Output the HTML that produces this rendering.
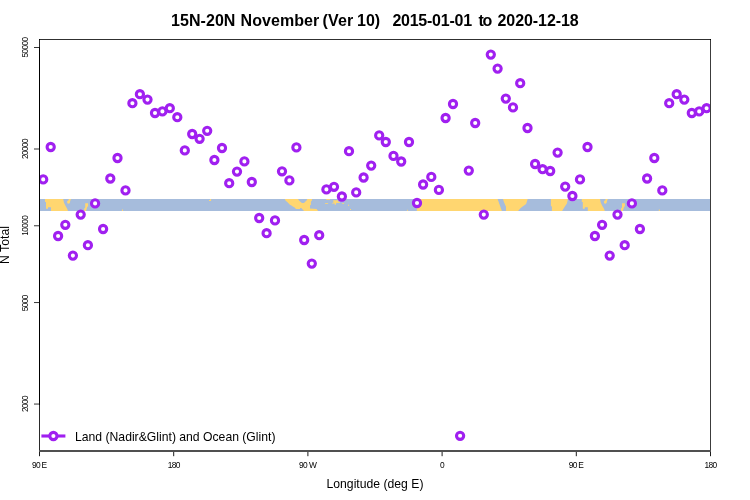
<!DOCTYPE html>
<html><head><meta charset="utf-8"><style>
html,body{margin:0;padding:0;background:#fff;}
svg{display:block;font-family:"Liberation Sans",sans-serif;will-change:transform;}
</style></head><body>
<svg width="750" height="500" viewBox="0 0 750 500">
<rect width="750" height="500" fill="#fff"/>
<text x="171.00" y="25.8" font-size="16" font-weight="bold" fill="#000" textLength="64.43" lengthAdjust="spacing">15N-20N</text><text x="240.50" y="25.8" font-size="16" font-weight="bold" fill="#000" textLength="78.75" lengthAdjust="spacing">November</text><text x="322.50" y="25.8" font-size="16" font-weight="bold" fill="#000" textLength="30.75" lengthAdjust="spacing">(Ver</text><text x="357.00" y="25.8" font-size="16" font-weight="bold" fill="#000" textLength="23.12" lengthAdjust="spacing">10)</text><text x="392.40" y="25.8" font-size="16" font-weight="bold" fill="#000" textLength="79.64" lengthAdjust="spacing">2015-01-01</text><text x="478.50" y="25.8" font-size="16" font-weight="bold" fill="#000" textLength="13.81" lengthAdjust="spacing">to</text><text x="497.50" y="25.8" font-size="16" font-weight="bold" fill="#000" textLength="81.24" lengthAdjust="spacing">2020-12-18</text>
<rect x="40" y="199" width="670" height="12" fill="#A6BCDC"/>
<g fill="#FFD670">
<polygon points="45.0,199.0 63.2,199.0 64.0,202.8 65.6,206.0 67.2,208.8 68.0,211.0 51.0,211.0 51.0,207.2 48.0,207.2 48.0,208.8 46.0,208.8 46.0,202.0 45.0,202.0"/>
<polygon points="581.8,199.0 600.0,199.0 600.8,202.8 602.4,206.0 604.0,208.8 604.8,211.0 587.8,211.0 587.8,207.2 584.8,207.2 584.8,208.8 582.8,208.8 582.8,202.0 581.8,202.0"/>
<polygon points="68.8,199.0 70.8,199.0 70.8,200.2 70.2,200.6 70.0,202.4 69.0,203.8 67.2,203.2 67.2,201.0 68.4,200.4"/>
<polygon points="605.6,199.0 607.6,199.0 607.6,200.2 607.0,200.6 606.8,202.4 605.8,203.8 604.0,203.2 604.0,201.0 605.2,200.4"/>
<polygon points="85.2,203.2 88.1,203.2 88.1,206.2 87.2,207.0 86.6,209.2 86.0,211.0 84.2,211.0 84.2,208.4 85.2,207.6"/>
<polygon points="622.0,203.2 624.9,203.2 624.9,206.2 624.0,207.0 623.4,209.2 622.8,211.0 621.0,211.0 621.0,208.4 622.0,207.6"/>
<polygon points="122.0,209.6 123.0,209.6 123.0,211.0 122.0,211.0"/>
<polygon points="658.8,209.6 659.8,209.6 659.8,211.0 658.8,211.0"/>
<polygon points="210.1,199.0 211.1,199.0 211.1,201.0 209.0,201.0 209.0,200.0 210.1,200.0"/>
<polygon points="285.1,199.0 298.0,199.0 299.2,200.8 300.7,202.0 301.9,202.9 304.0,202.9 305.2,201.7 306.4,200.8 307.3,199.0 312.1,199.0 311.8,200.8 310.9,201.4 310.9,205.0 310.0,205.3 310.0,208.6 316.6,208.9 318.1,211.0 304.0,211.0 302.2,208.9 301.3,208.0 300.1,208.0 300.1,208.9 295.9,208.9 295.0,207.7 293.2,206.8 291.4,205.6 289.6,204.4 287.8,202.6 286.0,201.1 285.1,199.9"/>
<polygon points="326.2,199.0 329.9,199.0 329.9,199.9 326.2,199.9"/>
<polygon points="325.1,203.1 328.1,203.1 328.1,203.9 325.1,203.9"/>
<polygon points="333.1,200.2 337.9,200.2 337.9,201.5 340.0,202.0 340.0,202.7 336.3,203.1 335.8,204.7 334.7,204.7 334.7,203.6 332.0,203.6 332.0,202.9 333.6,202.5"/>
<polygon points="342.2,203.1 344.1,203.1 344.1,203.9 342.2,203.9"/>
<polygon points="348.0,204.7 349.1,204.7 349.1,205.7 348.0,205.7"/>
<polygon points="350.0,209.0 351.0,209.0 351.0,210.0 350.0,210.0"/>
<polygon points="407.0,209.8 407.8,209.8 407.8,211.0 407.0,211.0"/>
<polygon points="416.3,199.0 497.6,199.0 501.9,211.0 416.9,211.0"/>
<polygon points="503.0,199.0 527.7,199.0 526.1,204.1 522.3,206.8 520.2,208.4 518.1,211.0 506.0,211.0 506.0,206.8 503.9,202.0"/>
<polygon points="550.9,199.0 567.9,199.0 566.9,203.6 564.7,206.8 562.1,211.0 551.9,211.0 551.9,206.8 550.9,205.7"/>
</g>
<defs><clipPath id="pc"><rect x="39.5" y="39.5" width="671" height="411.5"/></clipPath></defs>
<g fill="#fff" stroke="#A020F0" stroke-width="3.1" clip-path="url(#pc)">
<circle cx="43.20" cy="179.40" r="3.6"/>
<circle cx="50.70" cy="147.00" r="3.6"/>
<circle cx="58.10" cy="236.00" r="3.6"/>
<circle cx="65.30" cy="224.80" r="3.6"/>
<circle cx="72.90" cy="255.60" r="3.6"/>
<circle cx="80.70" cy="214.60" r="3.6"/>
<circle cx="87.90" cy="245.20" r="3.6"/>
<circle cx="95.10" cy="203.40" r="3.6"/>
<circle cx="103.10" cy="229.00" r="3.6"/>
<circle cx="110.30" cy="178.50" r="3.6"/>
<circle cx="117.50" cy="158.00" r="3.6"/>
<circle cx="125.50" cy="190.40" r="3.6"/>
<circle cx="132.40" cy="103.20" r="3.6"/>
<circle cx="139.90" cy="94.20" r="3.6"/>
<circle cx="147.50" cy="99.60" r="3.6"/>
<circle cx="155.00" cy="113.00" r="3.6"/>
<circle cx="162.40" cy="111.40" r="3.6"/>
<circle cx="169.80" cy="108.20" r="3.6"/>
<circle cx="177.30" cy="117.20" r="3.6"/>
<circle cx="184.80" cy="150.40" r="3.6"/>
<circle cx="192.20" cy="134.00" r="3.6"/>
<circle cx="199.60" cy="138.80" r="3.6"/>
<circle cx="207.20" cy="130.80" r="3.6"/>
<circle cx="214.40" cy="160.00" r="3.6"/>
<circle cx="222.00" cy="148.00" r="3.6"/>
<circle cx="229.20" cy="183.20" r="3.6"/>
<circle cx="237.00" cy="171.60" r="3.6"/>
<circle cx="244.40" cy="161.40" r="3.6"/>
<circle cx="251.80" cy="182.00" r="3.6"/>
<circle cx="259.20" cy="218.00" r="3.6"/>
<circle cx="266.60" cy="233.20" r="3.6"/>
<circle cx="275.00" cy="220.40" r="3.6"/>
<circle cx="282.00" cy="171.30" r="3.6"/>
<circle cx="289.40" cy="180.40" r="3.6"/>
<circle cx="296.40" cy="147.40" r="3.6"/>
<circle cx="304.20" cy="240.00" r="3.6"/>
<circle cx="311.80" cy="263.60" r="3.6"/>
<circle cx="319.20" cy="235.20" r="3.6"/>
<circle cx="326.40" cy="189.40" r="3.6"/>
<circle cx="334.00" cy="186.80" r="3.6"/>
<circle cx="341.90" cy="196.50" r="3.6"/>
<circle cx="349.00" cy="151.20" r="3.6"/>
<circle cx="356.20" cy="192.40" r="3.6"/>
<circle cx="363.60" cy="177.50" r="3.6"/>
<circle cx="371.20" cy="165.60" r="3.6"/>
<circle cx="379.20" cy="135.40" r="3.6"/>
<circle cx="385.80" cy="142.00" r="3.6"/>
<circle cx="393.50" cy="155.90" r="3.6"/>
<circle cx="401.20" cy="161.50" r="3.6"/>
<circle cx="409.00" cy="142.00" r="3.6"/>
<circle cx="417.00" cy="203.00" r="3.6"/>
<circle cx="423.10" cy="184.50" r="3.6"/>
<circle cx="431.30" cy="176.90" r="3.6"/>
<circle cx="438.90" cy="189.90" r="3.6"/>
<circle cx="445.60" cy="118.00" r="3.6"/>
<circle cx="453.00" cy="104.00" r="3.6"/>
<circle cx="460.10" cy="435.80" r="3.6"/>
<circle cx="468.80" cy="170.60" r="3.6"/>
<circle cx="475.20" cy="123.00" r="3.6"/>
<circle cx="483.80" cy="214.60" r="3.6"/>
<circle cx="490.80" cy="54.60" r="3.6"/>
<circle cx="497.60" cy="68.60" r="3.6"/>
<circle cx="505.80" cy="98.60" r="3.6"/>
<circle cx="513.00" cy="107.40" r="3.6"/>
<circle cx="520.20" cy="83.20" r="3.6"/>
<circle cx="527.50" cy="128.00" r="3.6"/>
<circle cx="535.10" cy="164.00" r="3.6"/>
<circle cx="542.60" cy="169.20" r="3.6"/>
<circle cx="550.20" cy="171.00" r="3.6"/>
<circle cx="557.60" cy="152.60" r="3.6"/>
<circle cx="565.20" cy="186.60" r="3.6"/>
<circle cx="572.40" cy="196.00" r="3.6"/>
<circle cx="580.00" cy="179.40" r="3.6"/>
<circle cx="587.50" cy="147.00" r="3.6"/>
<circle cx="594.90" cy="236.00" r="3.6"/>
<circle cx="602.10" cy="224.80" r="3.6"/>
<circle cx="609.70" cy="255.60" r="3.6"/>
<circle cx="617.50" cy="214.60" r="3.6"/>
<circle cx="624.70" cy="245.20" r="3.6"/>
<circle cx="631.90" cy="203.40" r="3.6"/>
<circle cx="639.90" cy="229.00" r="3.6"/>
<circle cx="647.10" cy="178.50" r="3.6"/>
<circle cx="654.30" cy="158.00" r="3.6"/>
<circle cx="662.30" cy="190.40" r="3.6"/>
<circle cx="669.20" cy="103.20" r="3.6"/>
<circle cx="676.70" cy="94.20" r="3.6"/>
<circle cx="684.30" cy="99.60" r="3.6"/>
<circle cx="691.80" cy="113.00" r="3.6"/>
<circle cx="699.20" cy="111.40" r="3.6"/>
<circle cx="706.60" cy="108.20" r="3.6"/>
</g>
<g fill="#000">
<rect x="39" y="39" width="672" height="1" fill="#303030"/>
<rect x="39" y="39" width="1" height="413" fill="#2a2a2a"/>
<rect x="39" y="47" width="1" height="358" fill="#000"/>
<rect x="710" y="39" width="1" height="413" fill="#3c3c3c"/>
<rect x="39" y="450" width="672" height="2" fill="#505050"/>
<rect x="39" y="39" width="1" height="1"/><rect x="710" y="39" width="1" height="1"/>
<line x1="34" y1="47.50" x2="39.5" y2="47.50" stroke="#111" stroke-width="0.85"/><text transform="translate(28,47.50) rotate(-90)" text-anchor="middle" font-size="8.4" letter-spacing="-0.67">50000</text><line x1="34" y1="149.00" x2="39.5" y2="149.00" stroke="#111" stroke-width="0.85"/><text transform="translate(28,149.00) rotate(-90)" text-anchor="middle" font-size="8.4" letter-spacing="-0.67">20000</text><line x1="34" y1="225.78" x2="39.5" y2="225.78" stroke="#111" stroke-width="0.85"/><text transform="translate(28,225.78) rotate(-90)" text-anchor="middle" font-size="8.4" letter-spacing="-0.67">10000</text><line x1="34" y1="302.56" x2="39.5" y2="302.56" stroke="#111" stroke-width="0.85"/><text transform="translate(28,303.36) rotate(-90)" text-anchor="middle" font-size="8.4" letter-spacing="-0.67">5000</text><line x1="34" y1="404.06" x2="39.5" y2="404.06" stroke="#111" stroke-width="0.85"/><text transform="translate(28,404.06) rotate(-90)" text-anchor="middle" font-size="8.4" letter-spacing="-0.67">2000</text>
<line x1="39.50" y1="452" x2="39.50" y2="456.2" stroke="#1c1c1c" stroke-width="1"/><text x="39.50" y="468" text-anchor="middle" font-size="8.4" textLength="15" lengthAdjust="spacing">90 E</text><line x1="173.70" y1="452" x2="173.70" y2="456.2" stroke="#1c1c1c" stroke-width="1"/><text x="173.70" y="468" text-anchor="middle" font-size="8.4" letter-spacing="-0.67">180</text><line x1="307.90" y1="452" x2="307.90" y2="456.2" stroke="#1c1c1c" stroke-width="1"/><text x="307.90" y="468" text-anchor="middle" font-size="8.4" textLength="18" lengthAdjust="spacing">90 W</text><line x1="442.10" y1="452" x2="442.10" y2="456.2" stroke="#1c1c1c" stroke-width="1"/><text x="442.10" y="468" text-anchor="middle" font-size="8.4" letter-spacing="-0.67">0</text><line x1="576.30" y1="452" x2="576.30" y2="456.2" stroke="#1c1c1c" stroke-width="1"/><text x="576.30" y="468" text-anchor="middle" font-size="8.4" textLength="15" lengthAdjust="spacing">90 E</text><line x1="710.50" y1="452" x2="710.50" y2="456.2" stroke="#1c1c1c" stroke-width="1"/><text x="710.50" y="468" text-anchor="middle" font-size="8.4" letter-spacing="-0.67">180</text>
</g>
<text transform="translate(9.3,245) rotate(-90)" text-anchor="middle" font-size="12.3" fill="#000">N Total</text>
<text x="375" y="487.6" text-anchor="middle" font-size="12.2" textLength="97" lengthAdjust="spacing" fill="#000">Longitude (deg E)</text>
<line x1="41.4" y1="436" x2="65.4" y2="436" stroke="#A020F0" stroke-width="3.1"/>
<circle cx="53.4" cy="436" r="3.6" fill="#fff" stroke="#A020F0" stroke-width="3.1"/>
<text x="75" y="441" font-size="12.2" textLength="200.5" lengthAdjust="spacing" fill="#000">Land (Nadir&amp;Glint) and Ocean (Glint)</text>
</svg>
</body></html>
